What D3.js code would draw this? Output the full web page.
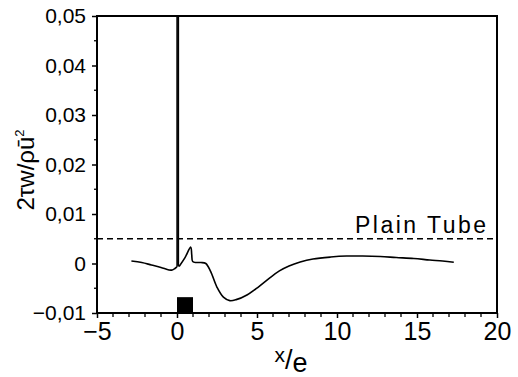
<!DOCTYPE html>
<html><head><meta charset="utf-8">
<script src="https://cdn.jsdelivr.net/npm/d3@7"></script>
<style>
body{margin:0;background:#fff;}
svg text{font-family:"Liberation Sans",Arial,sans-serif;fill:#000;}
</style></head>
<body><svg id="c" width="518" height="377"></svg>
<script>
// Data
const preX = [-2.85,-2.2,-1.6,-1.0,-0.5,-0.3,-0.13,0.0];
const preY = [0.0005,0.0002,-0.0003,-0.0008,-0.0013,-0.0013,-0.001,-0.0007];
const spikeX = [0.0,0.0,0.09,0.09,0.13];
const spikeY = [-0.0007,0.05,0.05,-0.0004,-0.0006];
const postX = [0.13,0.5,0.86,0.92,0.98,1.2,1.5,1.8,2.1,2.5,2.9,3.3,3.7,4.4,5.1,5.8,6.4,7.0,7.7,8.5,9.6,10.6,11.6,12.7,13.7,14.8,15.8,16.6,17.3];
const postY = [-0.0006,0.0012,0.0033,0.0018,0.0004,0.0002,0.0002,0.0,-0.0016,-0.0048,-0.0068,-0.0075,-0.0073,-0.0063,-0.0047,-0.0029,-0.0015,-0.0005,0.0003,0.0009,0.0013,0.0015,0.0015,0.0014,0.0012,0.001,0.0007,0.0005,0.00025];
const plainTube = 0.005;
const blockX = [0, 1];
const blockY = [-0.01, -0.0068];
const xTicks = [-5,0,5,10,15,20];
const xTickLabels = ["\u22125","0","5","10","15","20"];
const yTicks = [-0.01,0,0.01,0.02,0.03,0.04,0.05];
const yTickLabels = ["\u22120,01","0","0,01","0,02","0,03","0,04","0,05"];

const svg = d3.select("#c");
const L=97,R=497,T=16,B=313;
const x = d3.scaleLinear().domain([-5,20]).range([L,R]);
const y = d3.scaleLinear().domain([-0.01,0.05]).range([B,T]);

svg.append("defs").append("clipPath").attr("id","clip")
  .append("rect").attr("x",L).attr("y",T).attr("width",R-L).attr("height",B-T);

// minor ticks
const minorX = d3.range(-5,21,1).filter(v=>v%5!==0);
svg.append("g").selectAll("line").data(minorX).join("line")
  .attr("x1",d=>x(d)).attr("x2",d=>x(d)).attr("y1",B).attr("y2",B+4)
  .attr("stroke","#000").attr("stroke-width",1.3);
const minorY = [-0.005,0.005,0.015,0.025,0.035,0.045];
svg.append("g").selectAll("line").data(minorY).join("line")
  .attr("x1",L-3).attr("x2",L).attr("y1",d=>y(d)).attr("y2",d=>y(d))
  .attr("stroke","#000").attr("stroke-width",1.3);

// axes
const xAxis = d3.axisBottom(x).tickValues(xTicks).tickFormat((d,i)=>xTickLabels[i]).tickSize(5).tickPadding(4);
const gx = svg.append("g").attr("transform",`translate(0,${B})`).call(xAxis);
gx.select(".domain").remove();
gx.selectAll("line").attr("stroke-width",1.5);
gx.selectAll("text").attr("font-size",25).attr("font-family",null);

const yAxis = d3.axisLeft(y).tickValues(yTicks).tickFormat((d,i)=>yTickLabels[i]).tickSize(5).tickPadding(6);
const gy = svg.append("g").attr("transform",`translate(${L},0)`).call(yAxis);
gy.select(".domain").remove();
gy.selectAll("line").attr("stroke-width",1.5);
gy.selectAll("text").attr("font-size",21).attr("font-family",null);

// frame
svg.append("rect").attr("x",L).attr("y",T).attr("width",R-L).attr("height",B-T)
  .attr("fill","none").attr("stroke","#000").attr("stroke-width",2);

const plot = svg.append("g").attr("clip-path","url(#clip)");

// plain tube dashed line
plot.append("line").attr("x1",L).attr("x2",R).attr("y1",y(plainTube)).attr("y2",y(plainTube))
  .attr("stroke","#000").attr("stroke-width",1.5).attr("stroke-dasharray","6,4");

// block
plot.append("rect").attr("x",x(blockX[0])).attr("width",x(blockX[1])-x(blockX[0]))
  .attr("y",y(blockY[1])).attr("height",y(blockY[0])-y(blockY[1])).attr("fill","#000");

// curve
const smooth = d3.line().x(d=>x(d[0])).y(d=>y(d[1])).curve(d3.curveCatmullRom.alpha(0.5));
const lin = d3.line().x(d=>x(d[0])).y(d=>y(d[1]));
plot.append("path").datum(preX.map((v,i)=>[v,preY[i]])).attr("d",smooth)
  .attr("fill","none").attr("stroke","#000").attr("stroke-width",1.6);
plot.append("path").datum(spikeX.map((v,i)=>[v,spikeY[i]])).attr("d",lin)
  .attr("fill","none").attr("stroke","#000").attr("stroke-width",1.4);
plot.append("path").datum(postX.map((v,i)=>[v,postY[i]])).attr("d",smooth)
  .attr("fill","none").attr("stroke","#000").attr("stroke-width",1.6);

// labels
svg.append("text").attr("x",355).attr("y",233).attr("textLength",131).attr("lengthAdjust","spacing")
  .attr("font-size",23).text("Plain Tube");

const xl = svg.append("text").attr("x",291).attr("y",369).attr("text-anchor","middle").attr("font-size",27);
xl.append("tspan").attr("font-size",21).attr("dy",-7).text("x");
xl.append("tspan").attr("dy",7).text("/");
xl.append("tspan").attr("dy",3).text("e");

const yl = svg.append("text").attr("transform","translate(34,170) rotate(-90)").attr("text-anchor","middle").attr("font-size",24);
yl.append("tspan").text("2τ");
yl.append("tspan").text("w");
yl.append("tspan").text("/ρū");
yl.append("tspan").attr("font-size",13).attr("dy",-10).text("2");
</script></body></html>
